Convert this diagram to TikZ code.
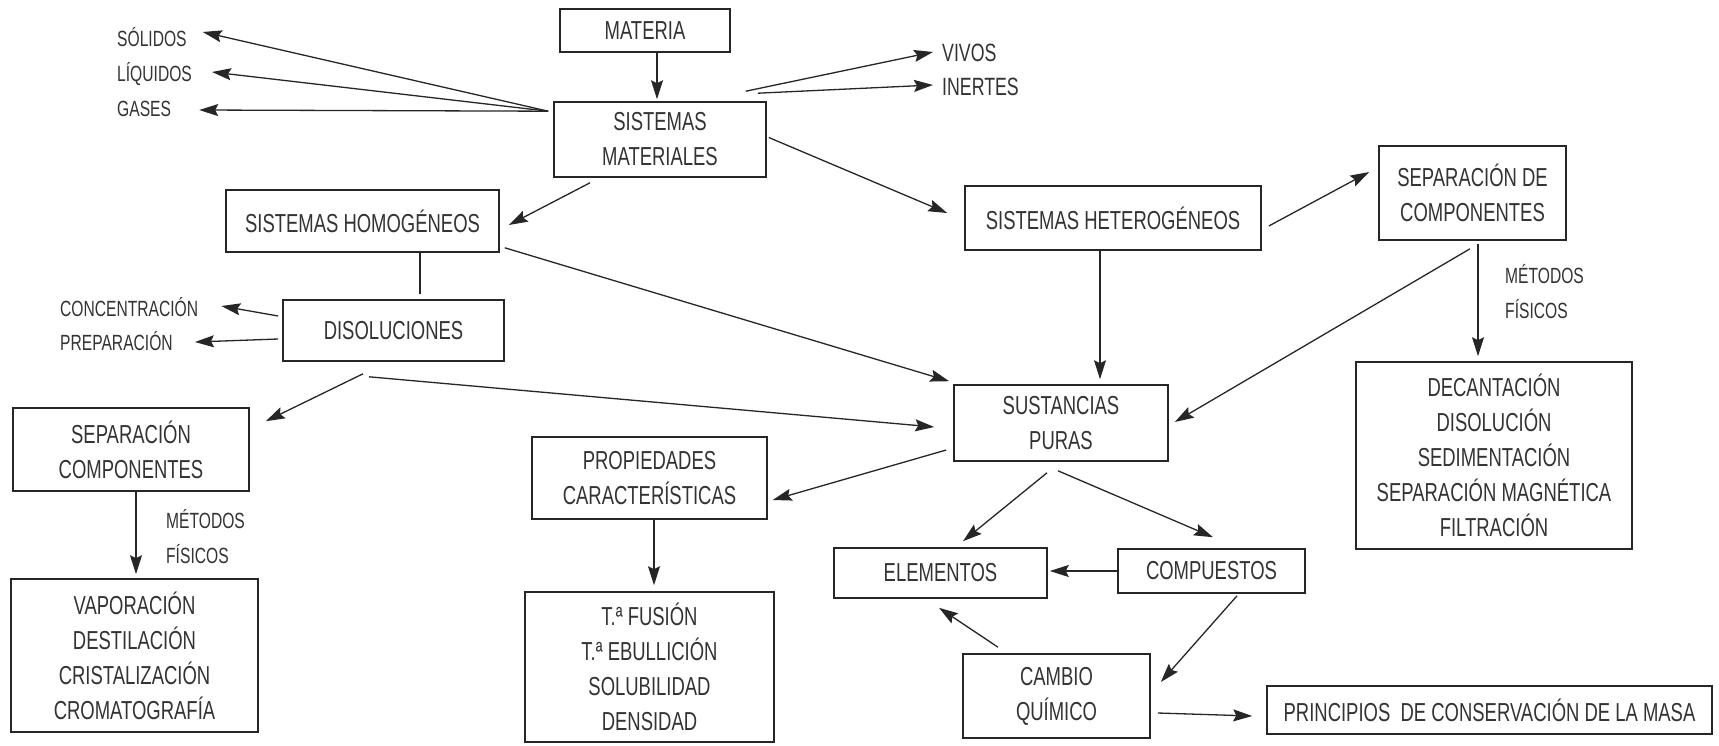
\documentclass[tikz,border=0pt]{standalone}
\usepackage{fontspec}
\setmainfont[FakeStretch=0.71]{Liberation Sans}
\usetikzlibrary{arrows.meta,calc}
\begin{document}
\begin{tikzpicture}[x=1pt,y=-1pt,
  box/.style={draw=black!85, line width=1.6pt, text=black!80, inner sep=0pt,
    align=center, font=\fontsize{26}{35}\selectfont},
  lbl/.style={text=black!80, inner sep=0pt, anchor=west,
    font=\fontsize{22}{29}\selectfont, text height=16pt, text depth=0pt},
  biglbl/.style={lbl, font=\fontsize{25}{29}\selectfont, text height=18pt},
  link/.style={draw=black!85, line width=1.3pt},
  arr/.style={link, -{Stealth[length=19pt,width=12pt,inset=3pt]}},
]
\fill[white] (0,0) rectangle (1719,745);
\useasboundingbox (0,0) rectangle (1719,745);

% boxes
\node[box, minimum width=170pt, minimum height=43pt] (mat) at (645,30.5) {MATERIA};
\node[box, minimum width=212pt, minimum height=75pt] (sm) at (660,139.5) {SISTEMAS\\MATERIALES};
\node[box, minimum width=273pt, minimum height=62pt] (hom) at (362.5,221) {SISTEMAS HOMOGÉNEOS};
\node[box, minimum width=296pt, minimum height=64pt] (het) at (1113,218) {SISTEMAS HETEROGÉNEOS};
\node[box, minimum width=187pt, minimum height=94pt] (sep) at (1472.5,193) {SEPARACIÓN DE\\COMPONENTES};
\node[box, minimum width=221pt, minimum height=61pt] (dis) at (393.5,330.5) {DISOLUCIONES};
\node[box, minimum width=214pt, minimum height=76pt] (sp) at (1061,423) {SUSTANCIAS\\PURAS};
\node[box, minimum width=236pt, minimum height=83pt] (sepc) at (131,449.5) {SEPARACIÓN\\COMPONENTES};
\node[box, minimum width=247pt, minimum height=153pt] (vap) at (134.5,655.5)
  {VAPORACIÓN\\DESTILACIÓN\\CRISTALIZACIÓN\\CROMATOGRAFÍA};
\node[box, minimum width=235pt, minimum height=82pt] (prop) at (649.5,478) {PROPIEDADES\\CARACTERÍSTICAS};
\node[box, minimum width=249pt, minimum height=150pt] (tf) at (649.5,667)
  {T.ª FUSIÓN\\T.ª EBULLICIÓN\\SOLUBILIDAD\\DENSIDAD};
\node[box, minimum width=213pt, minimum height=50pt] (elem) at (940.5,573) {ELEMENTOS};
\node[box, minimum width=187pt, minimum height=44pt] (comp) at (1211.5,571) {COMPUESTOS};
\node[box, minimum width=187pt, minimum height=84pt] (cam) at (1056.5,696) {CAMBIO\\QUÍMICO};
\node[box, minimum width=276pt, minimum height=187pt] (dec) at (1494,455.5)
  {DECANTACIÓN\\DISOLUCIÓN\\SEDIMENTACIÓN\\SEPARACIÓN MAGNÉTICA\\FILTRACIÓN};
\node[box, minimum width=445pt, minimum height=48pt] (prin) at (1489.5,710)
  {PRINCIPIOS~~DE CONSERVACIÓN DE LA MASA};

% free labels
\node[lbl] (sol) at (117,38) {SÓLIDOS};
\node[lbl] (liq) at (117,73) {LÍQUIDOS};
\node[lbl] (gas) at (117,108) {GASES};
\node[biglbl] (viv) at (942,52) {VIVOS};
\node[biglbl] (ine) at (942,86) {INERTES};
\node[lbl] (conc) at (60,308) {CONCENTRACIÓN};
\node[lbl] (prep) at (60,342) {PREPARACIÓN};
\node[lbl] (met1) at (1505,275) {MÉTODOS};
\node[lbl] (fis1) at (1505,310) {FÍSICOS};
\node[lbl] (met2) at (166,520) {MÉTODOS};
\node[lbl] (fis2) at (166,555) {FÍSICOS};

% connectors
\coordinate (smL) at ($(sm.north west)+(-5,10)$);
\draw[arr] ($(mat.south)+(12,0)$) -- ($(sm.north)+(-3,-2)$);
\draw[arr] (smL) -- ($(sol.east)+(16,-6)$);
\draw[arr] (smL) -- ($(liq.east)+(20,-1)$);
\draw[arr] (smL) -- ($(gas.east)+(28,2)$);
\draw[arr] ($(sm.north east)+(-21,-10)$) -- ($(viv.west)+(-9,0)$);
\draw[arr] ($(sm.north east)+(-9,-8)$) -- ($(ine.west)+(-9,-1)$);
\draw[arr] ($(sm.south)+(-70,5)$) -- ($(hom.east)+(9,4)$);
\draw[arr] ($(sm.east)+(2,-2)$) -- ($(het.west)+(-17,-5)$);
\draw[link] ($(hom.south)+(57.5,0)$) -- ($(dis.north)+(26.5,-5)$);
\draw[arr] ($(dis.west)+(-4,-14.5)$) -- ($(conc.east)+(23,-2)$);
\draw[arr] ($(dis.west)+(-4,8.5)$) -- ($(prep.east)+(22,0)$);
\draw[arr] ($(hom.south east)+(5,-5)$) -- ($(sp.north west)+(-4,-3)$);
\draw[arr] ($(dis.south)+(-30.5,12)$) -- ($(sepc.north east)+(16,14)$);
\draw[arr] ($(dis.south)+(-24.5,15)$) -- ($(sp.west)+(-19,4)$);
\draw[arr] ($(het.south)+(-13,0)$) -- ($(sp.north)+(39,-5)$);
\draw[arr] ($(het.east)+(7,8)$) -- ($(sep.west)+(-9,-21)$);
\draw[arr] ($(sep.south)+(5.5,3)$) -- ($(dec.north)+(-16,-5)$);
\draw[arr] ($(sep.south)+(-2.5,8)$) -- ($(sp.east)+(6,-1)$);
\draw[arr] ($(sepc.south)+(5,0)$) -- ($(vap.north)+(1.5,-4)$);
\draw[arr] ($(sp.west)+(-7,27)$) -- ($(prop.east)+(5,22)$);
\draw[arr] ($(prop.south)+(4.5,0)$) -- ($(tf.north)+(4.5,-6)$);
\draw[arr] ($(sp.south)+(-14,11)$) -- ($(elem.north)+(22.5,-6)$);
\draw[arr] ($(sp.south)+(-3,9)$) -- ($(comp.north)+(1.5,-11)$);
\draw[arr] (comp.west) -- ($(elem.east)+(2,-2)$);
\draw[arr] ($(comp.south)+(25.5,2)$) -- ($(cam.east)+(10,-14)$);
\draw[arr] ($(cam.north)+(-58.5,-6)$) -- ($(elem.south)+(-1.5,9)$);
\draw[arr] ($(cam.east)+(7,17)$) -- ($(prin.west)+(-14,6)$);
\end{tikzpicture}
\end{document}
